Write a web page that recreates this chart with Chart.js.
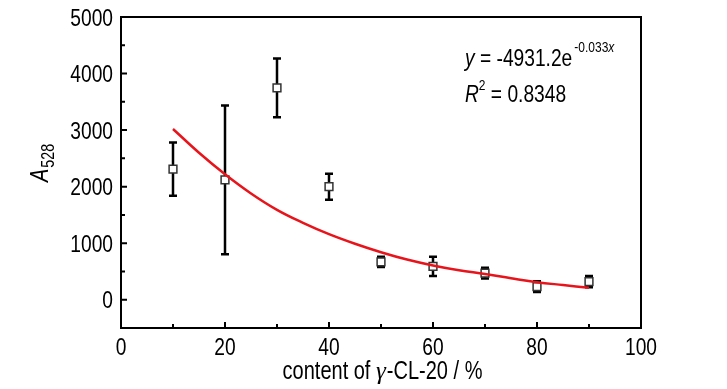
<!DOCTYPE html>
<html>
<head>
<meta charset="utf-8">
<script src="https://cdn.jsdelivr.net/npm/chart.js@4"></script>
<style>
  html, body { margin: 0; padding: 0; background: #fff; }
  #wrap { width: 727px; height: 389px; }
</style>
</head>
<body>
<div id="wrap"><canvas id="c" width="727" height="389"></canvas></div>
<script>
// measured points
const contentX = [10, 20, 30, 40, 50, 60, 70, 80, 90];
const a528 = [2310, 2120, 3745, 2000, 670, 590, 470, 230, 320];
const a528Err = [470, 1315, 520, 230, 90, 170, 95, 95, 100];

// red fit curve
const fitX = [10, 15, 20, 25, 30, 35, 40, 45, 50, 55, 60, 65, 70, 75, 80, 85, 90];
const fitY = [3020, 2600, 2220, 1880, 1590, 1360, 1160, 990, 840, 710, 605, 520, 455, 380, 310, 260, 212];

const xTicks = [0, 20, 40, 60, 80, 100];
const yTicks = [0, 1000, 2000, 3000, 4000, 5000];

const FONT = "'Liberation Sans', Arial, sans-serif";
const SQUEEZE = 0.8; // narrow look, like Arial Narrow

// draw text squeezed horizontally, returns its drawn width
function drawNarrow(ctx, str, x, y, font, align) {
  ctx.save();
  ctx.font = font;
  const w = ctx.measureText(str).width * SQUEEZE;
  let left = x;
  if (align === 'center') left = x - w / 2;
  if (align === 'right') left = x - w;
  ctx.translate(left, y);
  ctx.scale(SQUEEZE, 1);
  ctx.textAlign = 'left';
  ctx.fillText(str, 0, 0);
  ctx.restore();
  return w;
}

function narrowWidth(ctx, str, font) {
  ctx.save();
  ctx.font = font;
  const w = ctx.measureText(str).width * SQUEEZE;
  ctx.restore();
  return w;
}

// error bars, inward ticks, frame, labels
const extras = {
  id: 'extras',
  beforeDatasetsDraw(chart) {
    const ctx = chart.ctx;
    const xs = chart.scales.x, ys = chart.scales.y;
    ctx.save();
    ctx.strokeStyle = '#000';
    ctx.lineWidth = 2.5;
    contentX.forEach((x, i) => {
      const px = xs.getPixelForValue(x);
      const top = ys.getPixelForValue(a528[i] + a528Err[i]);
      const bot = ys.getPixelForValue(a528[i] - a528Err[i]);
      ctx.beginPath();
      ctx.moveTo(px, top); ctx.lineTo(px, bot);
      ctx.moveTo(px - 4, top); ctx.lineTo(px + 4, top);
      ctx.moveTo(px - 4, bot); ctx.lineTo(px + 4, bot);
      ctx.stroke();
    });
    ctx.restore();
  },
  afterDraw(chart) {
    const ctx = chart.ctx;
    const a = chart.chartArea;
    const xs = chart.scales.x, ys = chart.scales.y;
    ctx.save();
    ctx.strokeStyle = '#000';
    ctx.lineWidth = 2;
    ctx.strokeRect(a.left, a.top, a.right - a.left, a.bottom - a.top);

    // inward ticks
    ctx.beginPath();
    for (let v = 0; v <= 5000; v += 500) {
      const py = ys.getPixelForValue(v);
      const len = v % 1000 === 0 ? 6 : 4;
      ctx.moveTo(a.left, py); ctx.lineTo(a.left + len, py);
    }
    for (let v = 10; v < 100; v += 10) {
      const px = xs.getPixelForValue(v);
      const len = v % 20 === 0 ? 6 : 4;
      ctx.moveTo(px, a.bottom); ctx.lineTo(px, a.bottom - len);
    }
    ctx.stroke();

    ctx.fillStyle = '#000';
    ctx.textBaseline = 'alphabetic';
    const tickFont = '24px ' + FONT;

    // tick labels
    yTicks.forEach(v => {
      drawNarrow(ctx, String(v), a.left - 8, ys.getPixelForValue(v) + 8.5, tickFont, 'right');
    });
    xTicks.forEach(v => {
      drawNarrow(ctx, String(v), xs.getPixelForValue(v), a.bottom + 27, tickFont, 'center');
    });

    // x title: content of γ-CL-20 / %
    const tFont = '25px ' + FONT;
    const gFont = 'italic 25px serif';
    const w1 = narrowWidth(ctx, 'content of ', tFont);
    ctx.font = gFont;
    const wg = ctx.measureText('γ').width;
    const w3 = narrowWidth(ctx, '-CL-20 / %', tFont);
    let tx = 382 - (w1 + wg + w3) / 2;
    drawNarrow(ctx, 'content of ', tx, 379, tFont, 'left');
    tx += w1;
    ctx.font = gFont;
    ctx.textAlign = 'left';
    ctx.fillText('γ', tx, 379);
    tx += wg + 1;
    drawNarrow(ctx, '-CL-20 / %', tx, 379, tFont, 'left');

    // y title: A528
    ctx.save();
    ctx.translate(48, 168);
    ctx.rotate(-Math.PI / 2);
    const aw = drawNarrow(ctx, 'A', -14, 0, 'italic 25px ' + FONT, 'left');
    drawNarrow(ctx, '528', -14 + aw + 1, 6, '18px ' + FONT, 'left');
    ctx.restore();

    // equation
    let ex = 465;
    ex += drawNarrow(ctx, 'y', ex, 66, 'italic 24px ' + FONT, 'left');
    ex += drawNarrow(ctx, ' = -4931.2e', ex, 66, '24px ' + FONT, 'left') + 2;
    ex += drawNarrow(ctx, '-0.033', ex, 52, '15px ' + FONT, 'left');
    drawNarrow(ctx, 'x', ex, 52, 'italic 15px ' + FONT, 'left');

    let rx = 465;
    rx += drawNarrow(ctx, 'R', rx, 102, 'italic 24px ' + FONT, 'left');
    rx += drawNarrow(ctx, '2', rx, 90, '15px ' + FONT, 'left');
    drawNarrow(ctx, ' = 0.8348', rx, 102, '24px ' + FONT, 'left');
    ctx.restore();
  }
};

new Chart(document.getElementById('c'), {
  type: 'scatter',
  data: {
    datasets: [
      {
        label: 'fit',
        type: 'line',
        data: fitX.map((x, i) => ({ x, y: fitY[i] })),
        borderColor: '#e8141b',
        borderWidth: 2.5,
        pointRadius: 0,
        tension: 0.4,
        fill: false,
        order: 0
      },
      {
        label: 'A528',
        data: contentX.map((x, i) => ({ x, y: a528[i] })),
        pointStyle: 'rect',
        pointRadius: 5.5,
        pointBackgroundColor: '#fff',
        pointBorderColor: '#333',
        pointBorderWidth: 1.5,
        order: 1
      }
    ]
  },
  options: {
    responsive: false,
    animation: false,
    devicePixelRatio: 1,
    layout: { padding: { left: 0, right: 86, top: 17, bottom: 0 } },
    plugins: { legend: { display: false }, tooltip: { enabled: false } },
    scales: {
      x: {
        type: 'linear',
        min: 0, max: 100,
        afterBuildTicks: s => { s.ticks = xTicks.map(v => ({ value: v })); },
        afterFit: s => { s.height = 61; },
        grid: { display: false, drawTicks: false },
        border: { display: false },
        ticks: { display: false }
      },
      y: {
        type: 'linear',
        min: -500, max: 5000,
        afterBuildTicks: s => { s.ticks = yTicks.map(v => ({ value: v })); },
        afterFit: s => { s.width = 121; },
        grid: { display: false, drawTicks: false },
        border: { display: false },
        ticks: { display: false }
      }
    }
  },
  plugins: [extras]
});
</script>
</body>
</html>
